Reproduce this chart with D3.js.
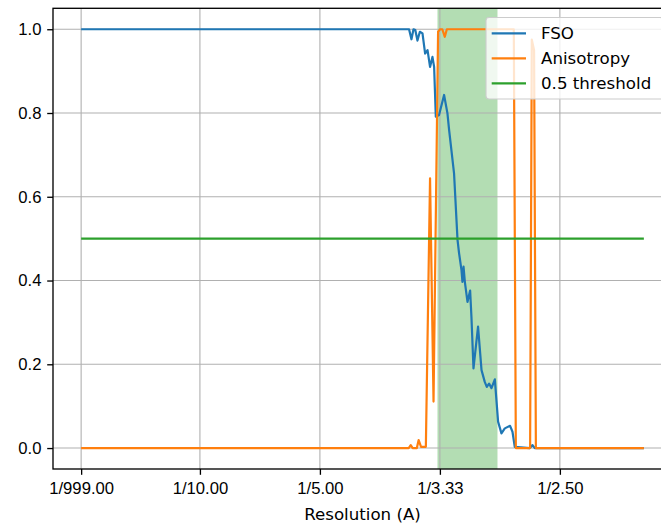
<!DOCTYPE html>
<html>
  <head>
    <meta charset="utf-8">
    <title>FSO and anisotropy</title>
    <script src="https://d3js.org/d3.v7.min.js"></script>
    <style>
      body { margin: 0; background: #fff; }
      svg { display: block; font-family: "DejaVu Sans", sans-serif; }
      .tick text { font-size: 16.67px; fill: #000; }
      .label { font-size: 16.67px; fill: #000; }
      .legend text { font-size: 16.67px; fill: #000; }
    </style>
  </head>
  <body>
    <svg id="chart" width="661" height="527"></svg>
    <script>
      // data (x = 1/resolution)
      var fsoFreq = [0.001, 0.2743, 0.2763, 0.2780, 0.2795, 0.2813, 0.2833, 0.2855, 0.2877, 0.2897, 0.2918, 0.2938, 0.2952, 0.2966, 0.2993, 0.3035, 0.3063, 0.3077, 0.3118, 0.3147, 0.3160, 0.3180, 0.3188, 0.3197, 0.3208, 0.3230, 0.3252, 0.3263, 0.3280, 0.3318, 0.3347, 0.3374, 0.3391, 0.3410, 0.3430, 0.3458, 0.3485, 0.3513, 0.3541, 0.3585, 0.3605, 0.3624, 0.3749, 0.3772, 0.3791, 0.47];
      var fsoValue = [1.0, 1.0, 0.976, 1.0, 0.998, 0.973, 0.994, 0.99, 0.942, 0.95, 0.910, 0.934, 0.91, 0.791, 0.795, 0.843, 0.799, 0.759, 0.656, 0.497, 0.465, 0.425, 0.397, 0.433, 0.397, 0.349, 0.376, 0.313, 0.190, 0.290, 0.186, 0.158, 0.146, 0.154, 0.143, 0.164, 0.063, 0.035, 0.047, 0.053, 0.039, 0.003, 0.0, 0.007, 0.0, 0.0];
      var anisoFreq = [0.001, 0.2740, 0.2757, 0.2773, 0.2808, 0.2823, 0.2843, 0.2883, 0.2918, 0.2947, 0.2985, 0.3002, 0.3020, 0.3041, 0.3058, 0.3616, 0.3633, 0.3752, 0.3766, 0.3785, 0.3800, 0.47];
      var anisoValue = [0.0, 0.0, 0.007, 0.0, 0.0, 0.019, 0.003, 0.003, 0.644, 0.111, 0.994, 1.0, 1.0, 0.982, 1.0, 1.0, 0.0, 0.0, 0.975, 0.95, 0.0, 0.0];
      var thresholdFreq = [0.001, 0.47];
      var thresholdValue = [0.5, 0.5];
      var bandRange = [0.298, 0.348];
      var xTickValues = [0.001, 0.1, 0.2, 0.3, 0.4];
      var xTickLabels = ["1/999.00", "1/10.00", "1/5.00", "1/3.33", "1/2.50"];
      var yTickValues = [0.0, 0.2, 0.4, 0.6, 0.8, 1.0];
      var yTickLabels = ["0.0", "0.2", "0.4", "0.6", "0.8", "1.0"];
      var seriesNames = ["FSO", "Anisotropy", "0.5 threshold"];
      var seriesColours = ["#1f77b4", "#ff7f0e", "#2ca02c"];

      // layout
      var chart = d3.select("#chart");
      var margin = { top: 8.3, left: 53, bottom: 469, right: 672 };
      var x = d3.scaleLinear()
        .domain([0.001 - 0.05 * 0.469, 0.47 + 0.05 * 0.469])
        .range([margin.left, margin.right]);
      var y = d3.scaleLinear()
        .domain([-0.05, 1.05])
        .range([margin.bottom, margin.top]);

      // shaded band
      chart.append("rect")
        .attr("x", x(bandRange[0]))
        .attr("y", margin.top)
        .attr("width", x(bandRange[1]) - x(bandRange[0]))
        .attr("height", margin.bottom - margin.top)
        .attr("fill", "#2ca02c")
        .attr("fill-opacity", 0.36);

      // grid
      var grid = chart.append("g").attr("stroke", "#b0b0b0").attr("stroke-width", 1.1);
      grid.selectAll(".vgrid").data(xTickValues).enter().append("line")
        .attr("x1", function(d) { return x(d); })
        .attr("x2", function(d) { return x(d); })
        .attr("y1", margin.top)
        .attr("y2", margin.bottom);
      grid.selectAll(".hgrid").data(yTickValues).enter().append("line")
        .attr("x1", margin.left)
        .attr("x2", margin.right)
        .attr("y1", function(d) { return y(d); })
        .attr("y2", function(d) { return y(d); });

      // series
      var line = d3.line()
        .x(function(d) { return x(d[0]); })
        .y(function(d) { return y(d[1]); });
      var series = [
        d3.zip(fsoFreq, fsoValue),
        d3.zip(anisoFreq, anisoValue),
        d3.zip(thresholdFreq, thresholdValue)
      ];
      chart.selectAll(".series").data(series).enter().append("path")
        .attr("class", "series")
        .attr("d", line)
        .attr("fill", "none")
        .attr("stroke", function(d, i) { return seriesColours[i]; })
        .attr("stroke-width", 2.2)
        .attr("stroke-linejoin", "round");

      // axes
      var xAxis = d3.axisBottom(x)
        .tickValues(xTickValues)
        .tickFormat(function(d, i) { return xTickLabels[i]; })
        .tickSizeInner(5.8)
        .tickSizeOuter(0)
        .tickPadding(5.8);
      var yAxis = d3.axisLeft(y)
        .tickValues(yTickValues)
        .tickFormat(function(d, i) { return yTickLabels[i]; })
        .tickSizeInner(5.8)
        .tickSizeOuter(0)
        .tickPadding(5.8);
      var xAxisGroup = chart.append("g")
        .attr("transform", "translate(0," + margin.bottom + ")")
        .call(xAxis);
      xAxisGroup.selectAll("text").attr("dy", "0.78em");
      var yAxisGroup = chart.append("g")
        .attr("transform", "translate(" + margin.left + ",0)")
        .call(yAxis);
      chart.selectAll(".domain").remove();
      chart.selectAll(".tick line").attr("stroke", "#000").attr("stroke-width", 1.33);
      chart.selectAll(".tick text").attr("font-family", null).attr("font-size", null);

      // frame
      chart.append("rect")
        .attr("x", margin.left)
        .attr("y", margin.top)
        .attr("width", margin.right - margin.left)
        .attr("height", margin.bottom - margin.top)
        .attr("fill", "none")
        .attr("stroke", "#000")
        .attr("stroke-width", 1.33);

      chart.append("text")
        .attr("class", "label")
        .attr("x", (margin.left + margin.right) / 2)
        .attr("y", 519.5)
        .attr("text-anchor", "middle")
        .text("Resolution (A)");

      // legend
      var legend = chart.append("g").attr("class", "legend");
      legend.append("rect")
        .attr("x", 486)
        .attr("y", 17.5)
        .attr("width", 177)
        .attr("height", 81.5)
        .attr("rx", 3)
        .attr("fill", "#fff")
        .attr("fill-opacity", 0.8)
        .attr("stroke", "#cccccc")
        .attr("stroke-width", 1.1);
      var entries = legend.selectAll(".entry").data(seriesNames).enter().append("g")
        .attr("transform", function(d, i) { return "translate(0," + (33.3 + i * 25) + ")"; });
      entries.append("line")
        .attr("x1", 491.7)
        .attr("x2", 526)
        .attr("stroke", function(d, i) { return seriesColours[i]; })
        .attr("stroke-width", 2.2);
      entries.append("text")
        .attr("x", 541)
        .attr("dy", "0.36em")
        .text(function(d) { return d; });
    </script>
  </body>
</html>
